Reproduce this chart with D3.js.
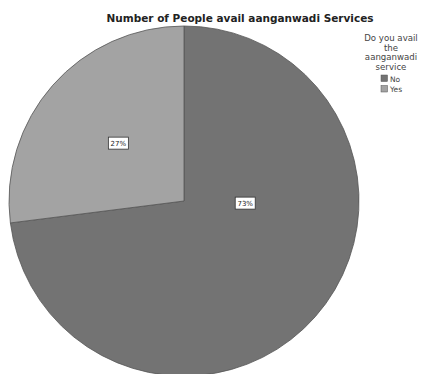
<!DOCTYPE html>
<html>
<head>
<meta charset="utf-8">
<script src="https://cdn.jsdelivr.net/npm/d3@7"></script>
<style>
  html, body { margin: 0; padding: 0; background: #fff; }
  svg { display: block; }
</style>
</head>
<body>
<svg id="chart" width="423" height="374"></svg>
<script>
// Survey answers and their shares (percent)
const categories = ["No", "Yes"];
const shares = [73, 27];
const sliceColors = ["#737373", "#a3a3a3"];
const titleText = "Number of People avail aanganwadi Services";
const legendTitle = ["Do you avail", "the", "aanganwadi", "service"];

const svg = d3.select("#chart");
const font = "'DejaVu Sans', 'Open Sans', sans-serif";

const cx = 184, cy = 201, r = 175;

const color = d3.scaleOrdinal().domain(categories).range(sliceColors);

// No runs clockwise from 12 o'clock, Yes fills the remainder
const data = categories.map((c, i) => ({ cat: c, value: shares[i] }));
const pie = d3.pie().sort(null).value(d => d.value).startAngle(0).endAngle(2 * Math.PI);
const arcs = pie(data);

const arc = d3.arc().innerRadius(0).outerRadius(r);

const g = svg.append("g").attr("transform", `translate(${cx},${cy})`);

g.selectAll("path.slice")
  .data(arcs)
  .join("path")
  .attr("class", "slice")
  .attr("d", arc)
  .attr("fill", d => color(d.data.cat))
  .attr("stroke", "#555")
  .attr("stroke-width", 0.8);

// Label placement per slice: radius fraction and a share of the slice's sweep
const labelPlace = { No: { rf: 0.35, t: 0.35 }, Yes: { rf: 0.5, t: 0.5 } };
function labelPos(d) {
  const p = labelPlace[d.data.cat];
  const a = d.startAngle + (d.endAngle - d.startAngle) * p.t;
  const rr = r * p.rf;
  return [Math.sin(a) * rr, -Math.cos(a) * rr];
}

const labels = g.selectAll("g.lbl")
  .data(arcs)
  .join("g")
  .attr("class", "lbl")
  .attr("transform", d => {
    const [x, y] = labelPos(d);
    return `translate(${x},${y})`;
  });

labels.append("rect")
  .attr("x", -10).attr("y", -6)
  .attr("width", 20).attr("height", 12)
  .attr("fill", "#fff")
  .attr("stroke", "#333")
  .attr("stroke-width", 0.8);

labels.append("text")
  .attr("text-anchor", "middle")
  .attr("dy", "0.35em")
  .attr("font-family", font)
  .attr("font-size", 7)
  .attr("fill", "#222")
  .text(d => d.data.value + "%");

// Title
svg.append("text")
  .attr("x", 240).attr("y", 22)
  .attr("text-anchor", "middle")
  .attr("font-family", font)
  .attr("font-weight", "bold")
  .attr("font-size", 10.5)
  .attr("fill", "#222")
  .text(titleText);

// Legend
const lg = svg.append("g").attr("transform", "translate(391,0)");
lg.selectAll("text.lt")
  .data(legendTitle)
  .join("text")
  .attr("class", "lt")
  .attr("x", 0)
  .attr("y", (d, i) => 41 + i * 9.7)
  .attr("text-anchor", "middle")
  .attr("font-family", font)
  .attr("font-size", 8.6)
  .attr("fill", "#444")
  .text(d => d);

const items = lg.selectAll("g.item")
  .data(categories)
  .join("g")
  .attr("class", "item")
  .attr("transform", (d, i) => `translate(-10,${81 + i * 10.5})`);

items.append("rect")
  .attr("x", 0).attr("y", -6)
  .attr("width", 6.5).attr("height", 6.5)
  .attr("fill", d => color(d))
  .attr("stroke", "#555")
  .attr("stroke-width", 0.5);

items.append("text")
  .attr("x", 9).attr("y", 0.5)
  .attr("font-family", font)
  .attr("font-size", 7.5)
  .attr("fill", "#444")
  .text(d => d);
</script>
</body>
</html>
